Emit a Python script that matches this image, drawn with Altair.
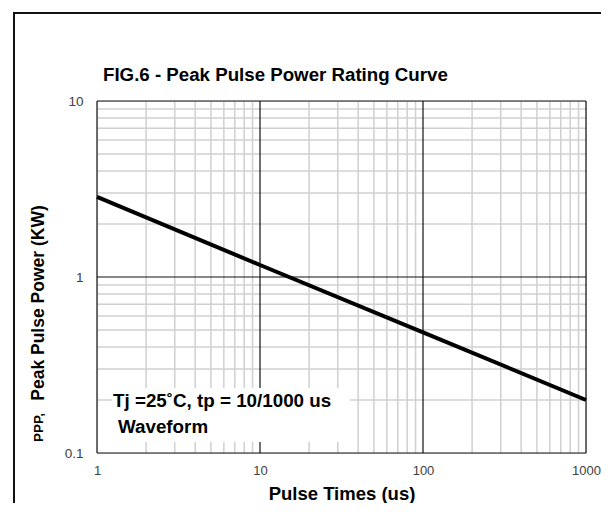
import altair as alt
import pandas as pd

# ---- data ----
pulse_time = [1, 10, 100, 1000]          # us
peak_power = [2.85, 1.17, 0.485, 0.2]    # KW

x_minor = [2, 3, 4, 5, 6, 7, 8, 9,
           20, 30, 40, 50, 60, 70, 80, 90,
           200, 300, 400, 500, 600, 700, 800, 900]
y_minor = [0.2, 0.3, 0.4, 0.5, 0.6, 0.7, 0.8, 0.9,
           2, 3, 4, 5, 6, 7, 8, 9]
x_major = [1, 10, 100, 1000]
y_major = [0.1, 1, 10]

title_text = "FIG.6 - Peak Pulse Power Rating Curve"
x_title = "Pulse Times (us)"
y_title_prefix = "PPP,"
y_title = "Peak Pulse Power (KW)"
note_lines = ["Tj =25˚C, tp = 10/1000 us", "Waveform"]
note_x = [1.254, 1.345]
note_y = [0.1824, 0.1304]
note_box = {"x1": [1.236], "x2": [35.6], "y1": [0.1155], "y2": [0.234]}

FONT = "Liberation Sans"

curve = pd.DataFrame({"t": pulse_time, "p": peak_power})
notes = pd.DataFrame({"t": note_x, "p": note_y, "label": note_lines})
box = pd.DataFrame(note_box)

xscale = alt.Scale(type="log", domain=[1, 1000], nice=False)
yscale = alt.Scale(type="log", domain=[0.1, 10], nice=False)

x_axis = alt.Axis(
    values=x_major, format="~g", grid=False, labelFlush=False,
    labelOverlap=False, labelFont=FONT, labelFontSize=13, labelColor="#404040",
    labelPadding=11, ticks=False, domain=False,
    title=x_title, titleFont=FONT, titleFontSize=18.5, titleFontWeight="bold",
    titleColor="#000000", titlePadding=7,
)
y_axis = alt.Axis(
    values=y_major, format="~g", grid=False, labelFlush=False,
    labelOverlap=False, labelFont=FONT, labelFontSize=13.5, labelColor="#404040",
    labelPadding=14, ticks=False, domain=False,
    title=y_title, titleFont=FONT, titleFontSize=17.5, titleFontWeight="bold",
    titleColor="#000000", titleAngle=270, titleBaseline="alphabetic", titleAlign="center",
    titleX=-54, titleY=201.5,
)

X = lambda f: alt.X(f, type="quantitative", scale=xscale, axis=x_axis)
Y = lambda f: alt.Y(f, type="quantitative", scale=yscale, axis=y_axis)

vminor = alt.Chart(pd.DataFrame({"t": x_minor})).mark_rule(
    color="#d0d0d0", strokeWidth=1.5).encode(x=X("t"))
hminor = alt.Chart(pd.DataFrame({"p": y_minor})).mark_rule(
    color="#d0d0d0", strokeWidth=1.5).encode(y=Y("p"))
vmajor = alt.Chart(pd.DataFrame({"t": x_major})).mark_rule(
    color="#111111", strokeWidth=1.2).encode(x=X("t"))
hmajor = alt.Chart(pd.DataFrame({"p": y_major})).mark_rule(
    color="#111111", strokeWidth=1.2).encode(y=Y("p"))

line = alt.Chart(curve).mark_line(color="#000000", strokeWidth=4).encode(
    x=X("t"), y=Y("p"))

rect = alt.Chart(box).mark_rect(fill="#ffffff").encode(
    x=X("x1"), x2="x2:Q", y=Y("y1"), y2="y2:Q")

note_text = alt.Chart(notes).mark_text(
    align="left", baseline="alphabetic", font=FONT, fontSize=18.8,
    fontWeight="bold", color="#000000",
).encode(x=X("t"), y=Y("p"), text="label:N")

prefix = alt.Chart(pd.DataFrame({"label": [y_title_prefix]})).mark_text(
    angle=270, align="left", baseline="alphabetic", font=FONT, fontSize=13.5,
    fontWeight="bold", color="#000000",
).encode(x=alt.value(-54), y=alt.value(341), text="label:N")

title = alt.Chart(pd.DataFrame({"label": [title_text]})).mark_text(
    align="left", baseline="alphabetic", font=FONT, fontSize=18.7,
    fontWeight="bold", color="#000000",
).encode(x=alt.value(6), y=alt.value(-20), text="label:N")

frame_left = alt.Chart(pd.DataFrame({"a": [0]})).mark_rule(color="#111111", strokeWidth=2).encode(
    x=alt.value(-83), y=alt.value(-88), y2=alt.value(520))
frame_top = alt.Chart(pd.DataFrame({"a": [0]})).mark_rule(color="#111111", strokeWidth=2).encode(
    x=alt.value(-84), x2=alt.value(620), y=alt.value(-88))

chart = alt.layer(vminor, hminor, vmajor, hmajor, rect, note_text, line,
                  prefix, title, frame_left, frame_top).properties(
    width=489, height=352,
    autosize=alt.AutoSizeParams(type="none"),
    padding={"left": 89, "top": 93, "right": 15, "bottom": 50},
).configure_view(stroke="#333333", strokeWidth=1.5).configure(background="#ffffff")

chart.save("out.html", embed_options={"renderer": "svg", "actions": False})
